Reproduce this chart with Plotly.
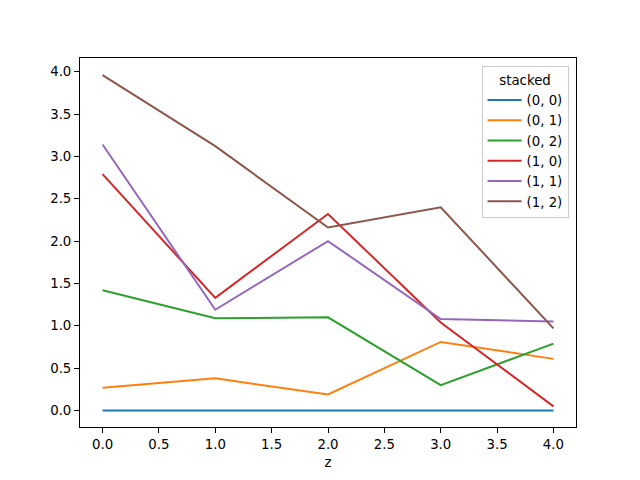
import plotly.graph_objects as go

z = [0, 1, 2, 3, 4]
series_names = ["(0, 0)", "(0, 1)", "(0, 2)", "(1, 0)", "(1, 1)", "(1, 2)"]
s00 = [0.0, 0.0, 0.0, 0.0, 0.0]
s01 = [0.27, 0.38, 0.19, 0.81, 0.61]
s02 = [1.42, 1.09, 1.10, 0.30, 0.79]
s10 = [2.79, 1.33, 2.32, 1.04, 0.05]
s11 = [3.14, 1.19, 2.00, 1.08, 1.05]
s12 = [3.96, 3.12, 2.16, 2.40, 0.97]
series_values = [s00, s01, s02, s10, s11, s12]
colors = ["#1f77b4", "#ff7f0e", "#2ca02c", "#d62728", "#9467bd", "#8c564b"]
x_ticks = [0.0, 0.5, 1.0, 1.5, 2.0, 2.5, 3.0, 3.5, 4.0]
y_ticks = [0.0, 0.5, 1.0, 1.5, 2.0, 2.5, 3.0, 3.5, 4.0]

fig = go.Figure()
for name, vals, c in zip(series_names, series_values, colors):
    fig.add_trace(go.Scatter(x=z, y=vals, mode="lines", name=name,
                             line=dict(color=c, width=2)))

axis_common = dict(showline=True, linecolor="black", linewidth=1, mirror=True,
                   ticks="outside", ticklen=5, tickwidth=1, tickcolor="black",
                   showgrid=False, zeroline=False,
                   tickfont=dict(family="DejaVu Sans", size=13.3, color="black"))

fig.update_layout(
    width=640, height=480,
    margin=dict(l=80, r=64, t=58, b=53),
    plot_bgcolor="white", paper_bgcolor="white",
    font=dict(family="DejaVu Sans", size=13.3, color="black"),
    xaxis=dict(range=[-0.2, 4.2], tickvals=x_ticks,
               ticktext=[f"{v:.1f}" for v in x_ticks],
               title=dict(text="z", standoff=6, font=dict(size=13.3)), **axis_common),
    yaxis=dict(range=[-0.194, 4.161], tickvals=y_ticks,
               ticktext=[f"{v:.1f}" for v in y_ticks], **axis_common),
    legend=dict(x=0.985, y=0.977, xanchor="right", yanchor="top",
                bordercolor="#cccccc", borderwidth=1, bgcolor="rgba(255,255,255,0.8)",
                title=dict(text="stacked", side="top center", font=dict(size=13.3)),
                font=dict(size=13.3), tracegroupgap=0, itemwidth=34),
    showlegend=True,
)

fig.write_html("out.html")
